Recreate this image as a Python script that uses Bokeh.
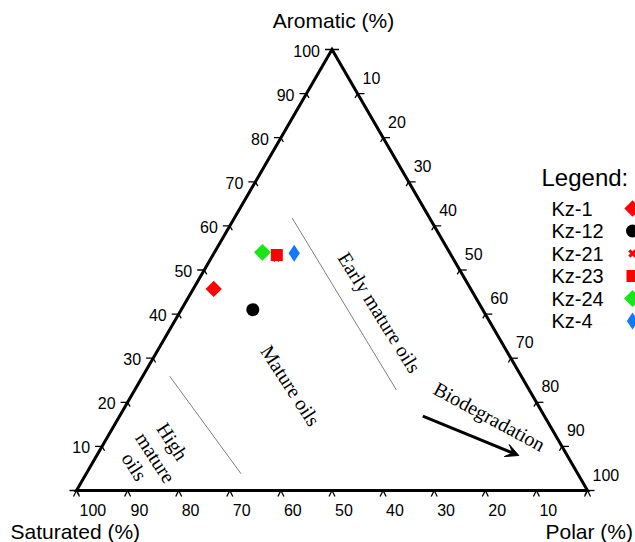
import math
from bokeh.plotting import figure
from bokeh.models import Range1d, Arrow, VeeHead, ColumnDataSource
from bokeh.core.properties import value
from bokeh.embed import file_html
from bokeh.resources import INLINE

# --- sample composition (Saturated / Aromatic / Polar, %) ---
samples = ["Kz-1", "Kz-12", "Kz-21", "Kz-23", "Kz-24", "Kz-4"]
saturated = [50.3, 45.0, 34.5, 34.1, 36.6, 30.5]
aromatic = [45.7, 41.0, 52.8, 53.4, 54.0, 53.8]
polar = [4.0, 14.0, 12.7, 12.5, 9.4, 15.7]

# axis tick values (%)
tick_values = [0, 10, 20, 30, 40, 50, 60, 70, 80, 90, 100]
tick_labels = ["10", "20", "30", "40", "50", "60", "70", "80", "90", "100"]

# maturity field boundaries, (S, A, P) end points
boundary_high = [(68.8, 25.9, 5.3), (65.9, 3.8, 30.3)]
boundary_early = [(26.9, 61.75, 11.35), (26.0, 22.8, 51.2)]
biodeg_arrow = [(23.8, 16.85, 59.35), (9.47, 7.94, 82.59)]

H = math.sqrt(3) / 2 * 100  # triangle height in data units

# screen scale: data units -> pixels
SX, SY = 5.11, 5.092
OX, OY = 76, 490  # pixel position of the Saturated apex


def tern(s, a, p):
    t = s + a + p
    return (p + a / 2) / t * 100, a / t * H


def scr(xp, yp):
    return (xp - OX) / SX, (OY - yp) / SY


def off(x, y, dxp, dyp):
    return x + dxp / SX, y - dyp / SY


W, HT = 635, 542
p = figure(width=W, height=HT, output_backend="svg", toolbar_location=None,
           x_axis_type=None, y_axis_type=None, min_border=0,
           x_range=Range1d(-OX / SX, (W - OX) / SX),
           y_range=Range1d(-(HT - OY) / SY, OY / SY))
p.grid.visible = False
p.outline_line_color = None
p.background_fill_color = "white"
p.border_fill_color = "white"

SANS = value("Liberation Sans")
SERIF = value("Liberation Serif")

# triangle frame
Lx, Ly = tern(100, 0, 0)
Rx, Ry = tern(0, 0, 100)
Tx, Ty = tern(0, 100, 0)
p.line([Lx, Rx, Tx, Lx, Rx], [Ly, Ry, Ty, Ly, Ry], line_color="black",
       line_width=3, line_join="miter")

# ticks
xs, ys = [], []
lab_l = dict(x=[], y=[], t=[])
lab_b = dict(x=[], y=[], t=[])
lab_r = dict(x=[], y=[], t=[])
for v in tick_values:
    # Aromatic (left side)
    x, y = tern(100 - v, v, 0)
    for dx, dy in [(-7, 0), (2.5, 4.3)]:
        x2, y2 = off(x, y, dx, dy)
        xs.append([x, x2]); ys.append([y, y2])
    # Saturated (bottom)
    x, y = tern(v, 0, 100 - v)
    for dx, dy in [(-3, 6), (3, 6)]:
        x2, y2 = off(x, y, dx, dy)
        xs.append([x, x2]); ys.append([y, y2])
    # Polar (right side)
    x, y = tern(0, 100 - v, v)
    for dx, dy in [(7, 0), (-2.5, 4.3)]:
        x2, y2 = off(x, y, dx, dy)
        xs.append([x, x2]); ys.append([y, y2])
p.multi_line(xs, ys, line_color="black", line_width=1.3)

for v, t in zip(tick_values[1:], tick_labels):
    x, y = tern(100 - v, v, 0)
    lx, ly = off(x, y, -12, 1)
    lab_l["x"].append(lx); lab_l["y"].append(ly); lab_l["t"].append(t)
    x, y = tern(v, 0, 100 - v)
    lx, ly = off(x, y, 3, 19)
    lab_b["x"].append(lx); lab_b["y"].append(ly); lab_b["t"].append(t)
    x, y = tern(0, 100 - v, v)
    lx, ly = off(x, y, 5, -16)
    lab_r["x"].append(lx); lab_r["y"].append(ly); lab_r["t"].append(t)

for d, align in [(lab_l, "right"), (lab_b, "left"), (lab_r, "left")]:
    p.text(x=d["x"], y=d["y"], text=d["t"], text_font=SANS,
           text_font_size="16px", text_align=align, text_baseline="middle",
           text_color="black")

# axis titles
for txt, (xp, yp), align in [("Aromatic (%)", (333, 20), "center"),
                             ("Saturated (%)", (10, 531), "left"),
                             ("Polar (%)", (545, 531), "left")]:
    x, y = scr(xp, yp)
    p.text(x=[x], y=[y], text=[txt], text_font=SANS, text_font_size="21px",
           text_align=align, text_baseline="middle", text_color="black")

# maturity field boundaries
for seg in (boundary_high, boundary_early):
    pts = [tern(*q) for q in seg]
    p.line([q[0] for q in pts], [q[1] for q in pts], line_color="#808080",
           line_width=1)

# field names
fields = [("Mature oils", (290, 385), -57),
          ("Early mature oils", (379, 312), -58),
          ("Biodegradation", (489, 416), -28.5),
          ("High", (172, 441), -57),
          ("mature", (155, 457), -57),
          ("oils", (134, 466), -57)]
for txt, (xp, yp), ang in fields:
    x, y = scr(xp, yp)
    p.text(x=[x], y=[y], text=[txt], angle=math.radians(ang),
           text_font=SERIF, text_font_size="20px", text_align="center",
           text_baseline="middle", text_color="black")

# biodegradation trend
a0 = tern(*biodeg_arrow[0])
a1 = tern(*biodeg_arrow[1])
p.add_layout(Arrow(end=VeeHead(size=13, fill_color="black", line_color="black",
                               line_width=1),
                   x_start=a0[0], y_start=a0[1], x_end=a1[0], y_end=a1[1],
                   line_width=3, line_color="black"))

# sample markers
styles = {
    "Kz-1": dict(marker="square", size=11.5, angle=math.pi / 4, color="#ff0000"),
    "Kz-12": dict(marker="circle", size=13, angle=0, color="#000000"),
    "Kz-21": dict(marker="x", size=9, angle=0, color="#ff0000"),
    "Kz-23": dict(marker="square", size=12, angle=0, color="#ff0000"),
    "Kz-24": dict(marker="square", size=12, angle=math.pi / 4, color="#19e619"),
    "Kz-4": dict(marker="diamond", size=17, angle=0, color="#1478ff"),
}

for name, s, a, pp in zip(samples, saturated, aromatic, polar):
    st = styles[name]
    x, y = tern(s, a, pp)
    src = ColumnDataSource(dict(x=[x], y=[y]))
    lw = 3 if st["marker"] == "x" else 0
    p.scatter("x", "y", source=src, marker=st["marker"], size=st["size"],
              angle=st["angle"], fill_color=st["color"], line_color=st["color"],
              line_width=lw)

# legend block
lx, ly = scr(541, 177)
p.text(x=[lx], y=[ly], text=["Legend:"], text_font=SANS, text_font_size="24px",
       text_align="left", text_baseline="middle", text_color="black")
for i, name in enumerate(samples):
    ypx = 208 + i * 22.5
    tx, ty = scr(551, ypx)
    p.text(x=[tx], y=[ty], text=[name], text_font=SANS, text_font_size="20px",
           text_align="left", text_baseline="middle", text_color="black")
    st = styles[name]
    mx, my = scr(632, ypx)
    lw = 3 if st["marker"] == "x" else 0
    p.scatter([mx], [my], marker=st["marker"], size=st["size"],
              angle=st["angle"], fill_color=st["color"], line_color=st["color"],
              line_width=lw)

open("out.html", "w").write(file_html(p, INLINE))
